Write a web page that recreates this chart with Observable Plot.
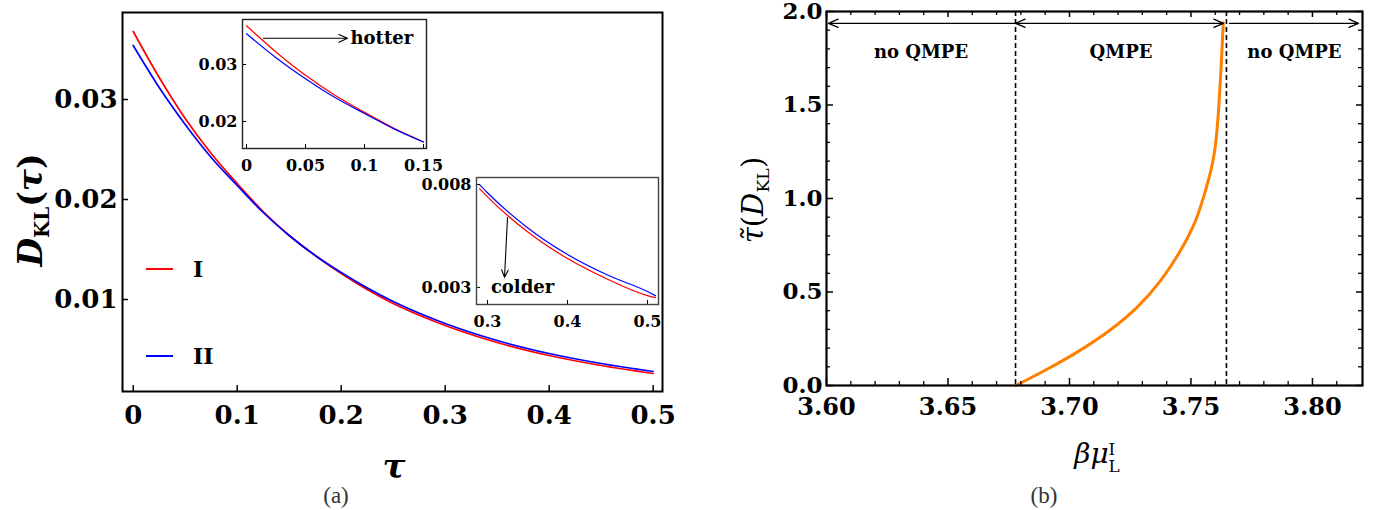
<!DOCTYPE html>
<html><head><meta charset="utf-8">
<script src="https://cdn.jsdelivr.net/npm/d3@7"></script>
<script src="https://cdn.jsdelivr.net/npm/@observablehq/plot@0.6"></script>
<style>
html,body{margin:0;padding:0;background:#fff;}
#root{position:relative;width:1374px;height:510px;overflow:hidden;background:#fff;}
</style></head><body><div id="root"></div>
<script>
// ---------- panel (a) data ----------
const tau   = [0, 0.025, 0.05, 0.075, 0.1, 0.125, 0.15, 0.175, 0.2, 0.25, 0.29, 0.3, 0.35, 0.4, 0.45, 0.5, 0.51];
const dklI  = [0.0368, 0.0322, 0.0281, 0.0246, 0.0216, 0.0188, 0.0164, 0.0144, 0.0126, 0.0096, 0.0078, 0.0074, 0.0057, 0.0044, 0.0034, 0.0026, 0.0025];
const dklII = [0.0354, 0.0312, 0.0275, 0.0242, 0.0214, 0.0187, 0.0164, 0.0144, 0.0127, 0.0098, 0.0080, 0.0076, 0.0059, 0.0046, 0.0036, 0.0028, 0.0026];
const seriesNames  = ["I", "II"];
const seriesColors = ["#ff0000", "#0000ff"];

const mainXTicks  = [0, 0.1, 0.2, 0.3, 0.4, 0.5];
const mainXLabels = ["0", "0.1", "0.2", "0.3", "0.4", "0.5"];
const mainYTicks  = [0.01, 0.02, 0.03];
const mainYLabels = ["0.01", "0.02", "0.03"];

const hotXTicks  = [0, 0.05, 0.1, 0.15];
const hotXLabels = ["0", "0.05", "0.1", "0.15"];
const hotYTicks  = [0.02, 0.03];
const hotYLabels = ["0.02", "0.03"];
const hotArrow   = {x1: 0.0144, x2: 0.0856, y: 0.0346, label: "hotter", labelX: 0.0881};

const coldXTicks  = [0.3, 0.4, 0.5];
const coldXLabels = ["0.3", "0.4", "0.5"];
const coldYTicks  = [0.003, 0.008];
const coldYLabels = ["0.003", "0.008"];
const coldArrow   = {x1: 0.325, y1: 0.0064, x2: 0.3213, y2: 0.00349, label: "colder", labelX: 0.3438, labelY: 0.0030};

// ---------- panel (b) data ----------
const muL      = [3.6780, 3.6898, 3.7025, 3.7169, 3.7279, 3.7375, 3.7457, 3.7519, 3.7560, 3.7582, 3.7597, 3.7606, 3.7615, 3.7624, 3.7633];
const tauTilde = [0.000, 0.080, 0.173, 0.298, 0.419, 0.561, 0.722, 0.882, 1.043, 1.150, 1.250, 1.350, 1.500, 1.700, 1.940];
const bounds       = [3.6778, 3.7646];
const regionLabels = ["no QMPE", "QMPE", "no QMPE"];
const rightXTicks  = [3.60, 3.65, 3.70, 3.75, 3.80];
const rightXLabels = ["3.60", "3.65", "3.70", "3.75", "3.80"];
const rightYTicks  = [0, 0.5, 1.0, 1.5, 2.0];
const rightYLabels = ["0.0", "0.5", "1.0", "1.5", "2.0"];
const rightXDomain = [3.60, 3.8206];
const arrowLevel = 1.937;
const regionTextLevel = 1.781;

// ---------- helpers ----------
const root = document.getElementById("root");
const rows = tau.map((t, i) => ({t, I: dklI[i], II: dklII[i]}));
const lab = (ticks, labels) => d => labels[ticks.indexOf(d)];
function place(svg, left, top) {
  svg.style.position = "absolute";
  svg.style.left = left + "px";
  svg.style.top = top + "px";
  svg.style.background = "transparent";
  svg.style.overflow = "visible";
  svg.style.maxWidth = "none";
  root.appendChild(svg);
}
function addLabel(html, cx, cy, style, rot = 0) {
  const d = document.createElement("div");
  d.innerHTML = html;
  Object.assign(d.style, {position: "absolute", left: cx + "px", top: cy + "px",
    transform: `translate(-50%,-50%) rotate(${rot}deg)`, whiteSpace: "nowrap", lineHeight: "1"}, style);
  root.appendChild(d);
}
const seriesLines = (data, sw) => seriesNames.map((s, k) =>
  Plot.line(data, {x: "t", y: s, stroke: seriesColors[k], strokeWidth: sw, curve: "monotone-x"}));

// ---------- main plot (a) ----------
{
  const iw = 540, ih = 379;
  const p = Plot.plot({
    width: 680, height: 440, marginLeft: 122, marginTop: 12, marginRight: 18, marginBottom: 49,
    x: {domain: [-0.0103, 0.509], label: null},
    y: {domain: [0.0008, 0.0387], label: null},
    style: {fontFamily: "DejaVu Serif", background: "transparent"},
    marks: [
      ...seriesLines(rows.filter(d => d.t <= 0.5), 1.7),
      Plot.ruleX(mainXTicks, {insetTop: ih - 6, strokeWidth: 1.5}),
      Plot.ruleY(mainYTicks, {insetRight: iw - 6, strokeWidth: 1.5}),
      Plot.axisX(mainXTicks, {tickSize: 0, tickPadding: 14, tickFormat: lab(mainXTicks, mainXLabels), fontSize: 26, fontWeight: "bold", label: null}),
      Plot.axisY(mainYTicks, {tickSize: 0, tickPadding: 5, tickFormat: lab(mainYTicks, mainYLabels), fontSize: 26, fontWeight: "bold", label: null}),
      Plot.frame({strokeWidth: 2})
    ]
  });
  place(p, 0, 0);
}

// ---------- inset "hotter" ----------
{
  const iw = 184, ih = 129;
  const p = Plot.plot({
    width: 250, height: 172, marginLeft: 52, marginTop: 11, marginRight: 14, marginBottom: 32,
    x: {domain: [-0.0034, 0.1525], label: null},
    y: {domain: [0.01526, 0.0379], label: null},
    style: {fontFamily: "DejaVu Serif", background: "transparent"},
    marks: [
      Plot.frame({fill: "white", stroke: "none"}),
      ...seriesLines(rows.filter(d => d.t <= 0.15), 1.2),
      Plot.ruleX(hotXTicks, {insetTop: ih - 4, strokeWidth: 1}),
      Plot.ruleY(hotYTicks, {insetRight: iw - 4, strokeWidth: 1}),
      Plot.axisX(hotXTicks, {tickSize: 0, tickPadding: 11, tickFormat: lab(hotXTicks, hotXLabels), fontSize: 16, fontWeight: "bold", label: null}),
      Plot.axisY(hotYTicks, {tickSize: 0, tickPadding: 5, tickFormat: lab(hotYTicks, hotYLabels), fontSize: 16, fontWeight: "bold", label: null}),
      Plot.arrow([hotArrow], {x1: "x1", x2: "x2", y1: "y", y2: "y", strokeWidth: 1.1, headLength: 13, headAngle: 48}),
      Plot.text([hotArrow], {x: "labelX", y: "y", text: "label", textAnchor: "start", fontSize: 18, fontWeight: "bold"}),
      Plot.frame({stroke: "#222", strokeWidth: 1.4})
    ]
  });
  place(p, 190, 8);
}

// ---------- inset "colder" ----------
{
  const iw = 182, ih = 127;
  const p = Plot.plot({
    width: 258, height: 171, marginLeft: 66, marginTop: 12, marginRight: 10, marginBottom: 32,
    x: {domain: [0.28625, 0.51375], label: null},
    y: {domain: [0.00217, 0.00834], label: null},
    style: {fontFamily: "DejaVu Serif", background: "transparent"},
    marks: [
      Plot.frame({fill: "white", stroke: "none"}),
      ...seriesLines(rows.filter(d => d.t >= 0.29), 1.2),
      Plot.ruleX(coldXTicks, {insetTop: ih - 4, strokeWidth: 1}),
      Plot.ruleY(coldYTicks, {insetRight: iw - 4, strokeWidth: 1}),
      Plot.axisX(coldXTicks, {tickSize: 0, tickPadding: 11, tickFormat: lab(coldXTicks, coldXLabels), fontSize: 16, fontWeight: "bold", label: null}),
      Plot.axisY(coldYTicks, {tickSize: 0, tickPadding: 5, tickFormat: lab(coldYTicks, coldYLabels), fontSize: 16, fontWeight: "bold", label: null}),
      Plot.arrow([coldArrow], {x1: "x1", y1: "y1", x2: "x2", y2: "y2", strokeWidth: 1.1, headLength: 11, headAngle: 48}),
      Plot.text([coldArrow], {x: "labelX", y: "labelY", text: "label", fontSize: 18, fontWeight: "bold"}),
      Plot.frame({stroke: "#444", strokeWidth: 1.4})
    ]
  });
  place(p, 410, 165);
}

// ---------- right plot (b) ----------
{
  const iw = 536, ih = 374;
  const xMinor = d3.range(3.61, 3.815, 0.01).map(v => +v.toFixed(2)).filter(v => !rightXTicks.some(t => Math.abs(t - v) < 1e-9));
  const yMinor = d3.range(0.1, 2.0, 0.1).map(v => +v.toFixed(1)).filter(v => !rightYTicks.some(t => Math.abs(t - v) < 1e-9));
  const curveRows = muL.map((m, i) => ({mu: m, tt: tauTilde[i]}));
  const edges = [rightXDomain[0], ...bounds, rightXDomain[1]];
  const centers = regionLabels.map((l, i) => ({label: l, x: (edges[i] + edges[i + 1]) / 2, y: regionTextLevel}));
  const mid = (bounds[0] + bounds[1]) / 2;
  const arrows = [
    {x1: bounds[0], x2: rightXDomain[0], inS: 0, inE: 2},
    {x1: mid, x2: bounds[0], inS: 0, inE: 0},
    {x1: mid, x2: bounds[1], inS: 0, inE: 3},
    {x1: bounds[1], x2: rightXDomain[1], inS: 3, inE: 4}
  ];
  const p = Plot.plot({
    width: 634, height: 440, marginLeft: 86, marginTop: 11, marginRight: 12, marginBottom: 55,
    x: {domain: rightXDomain, label: null},
    y: {domain: [0, 2], label: null},
    style: {fontFamily: "DejaVu Serif", background: "transparent"},
    marks: [
      Plot.ruleX(bounds, {strokeWidth: 1.6, strokeDasharray: "5,3"}),
      Plot.line(curveRows, {x: "mu", y: "tt", stroke: "#ff8000", strokeWidth: 3, curve: "catmull-rom"}),
      ...arrows.map(a => Plot.arrow([a], {x1: "x1", x2: "x2", y1: () => arrowLevel, y2: () => arrowLevel,
        strokeWidth: 1.3, headLength: 12, headAngle: 46, insetEnd: a.inE, insetStart: a.inS})),
      Plot.text(centers, {x: "x", y: "y", text: "label", fontSize: 18, fontWeight: "bold"}),
      // ticks: bottom/top
      Plot.ruleX(rightXTicks, {insetTop: ih - 7, strokeWidth: 1.5}),
      Plot.ruleX(xMinor, {insetTop: ih - 4, strokeWidth: 1.3}),
      Plot.ruleX(rightXTicks, {insetBottom: ih - 6, strokeWidth: 1.5}),
      Plot.ruleX(xMinor, {insetBottom: ih - 4, strokeWidth: 1.3}),
      // ticks: left/right
      Plot.ruleY(rightYTicks, {insetRight: iw - 7, strokeWidth: 1.5}),
      Plot.ruleY(yMinor, {insetRight: iw - 4, strokeWidth: 1.3}),
      Plot.ruleY(rightYTicks, {insetLeft: iw - 6, strokeWidth: 1.5}),
      Plot.ruleY(yMinor, {insetLeft: iw - 4, strokeWidth: 1.3}),
      Plot.axisX(rightXTicks, {tickSize: 0, tickPadding: 12, tickFormat: lab(rightXTicks, rightXLabels), fontSize: 24, fontWeight: "bold", label: null}),
      Plot.axisY(rightYTicks, {tickSize: 0, tickPadding: 4, tickFormat: lab(rightYTicks, rightYLabels), fontSize: 23, fontWeight: "bold", label: null}),
      Plot.frame({strokeWidth: 2.2})
    ]
  });
  place(p, 740, 0);
}

// ---------- text overlays ----------
const serifBold = {fontFamily: "'DejaVu Serif', serif", fontWeight: "bold", color: "#000"};
addLabel(`<span style="font-style:italic">D</span><span style="font-size:0.6em;position:relative;top:0.35em">KL</span>(<span style="font-style:italic">τ</span>)`,
  30, 210, {...serifBold, fontSize: "33px"}, -90);
addLabel(`<span style="font-style:italic">τ</span>`, 394, 466, {...serifBold, fontSize: "34px"});
addLabel("(a)", 336, 495, {fontFamily: "'Liberation Serif', serif", fontSize: "23px", color: "#333"});
addLabel("(b)", 1044, 495, {fontFamily: "'Liberation Serif', serif", fontSize: "23px", color: "#333"});
addLabel(`<span style="font-style:italic">τ̃</span>(<span style="font-style:italic">D</span><span style="font-size:0.6em;position:relative;top:0.35em">KL</span>)`,
  753, 200, {fontFamily: "'DejaVu Serif', serif", fontSize: "29px", color: "#000"}, -90);
addLabel(`<span style="font-style:italic">βμ</span><span style="display:inline-block;font-size:0.6em;line-height:1.05;vertical-align:-0.55em;text-align:left">I<br>L</span>`,
  1097, 458, {fontFamily: "'DejaVu Serif', serif", fontSize: "28px", color: "#000"});

// legend
const legendY = [269, 356];
seriesNames.forEach((s, k) => {
  const line = document.createElement("div");
  Object.assign(line.style, {position: "absolute", left: "146px", top: (legendY[k] - 1) + "px", width: "27px", height: "2px", background: seriesColors[k]});
  root.appendChild(line);
  const t = document.createElement("div");
  t.textContent = s;
  Object.assign(t.style, {position: "absolute", left: "193px", top: legendY[k] + "px", transform: "translateY(-50%)", lineHeight: "1", fontSize: "22px", ...serifBold});
  root.appendChild(t);
});
</script>
</body></html>
